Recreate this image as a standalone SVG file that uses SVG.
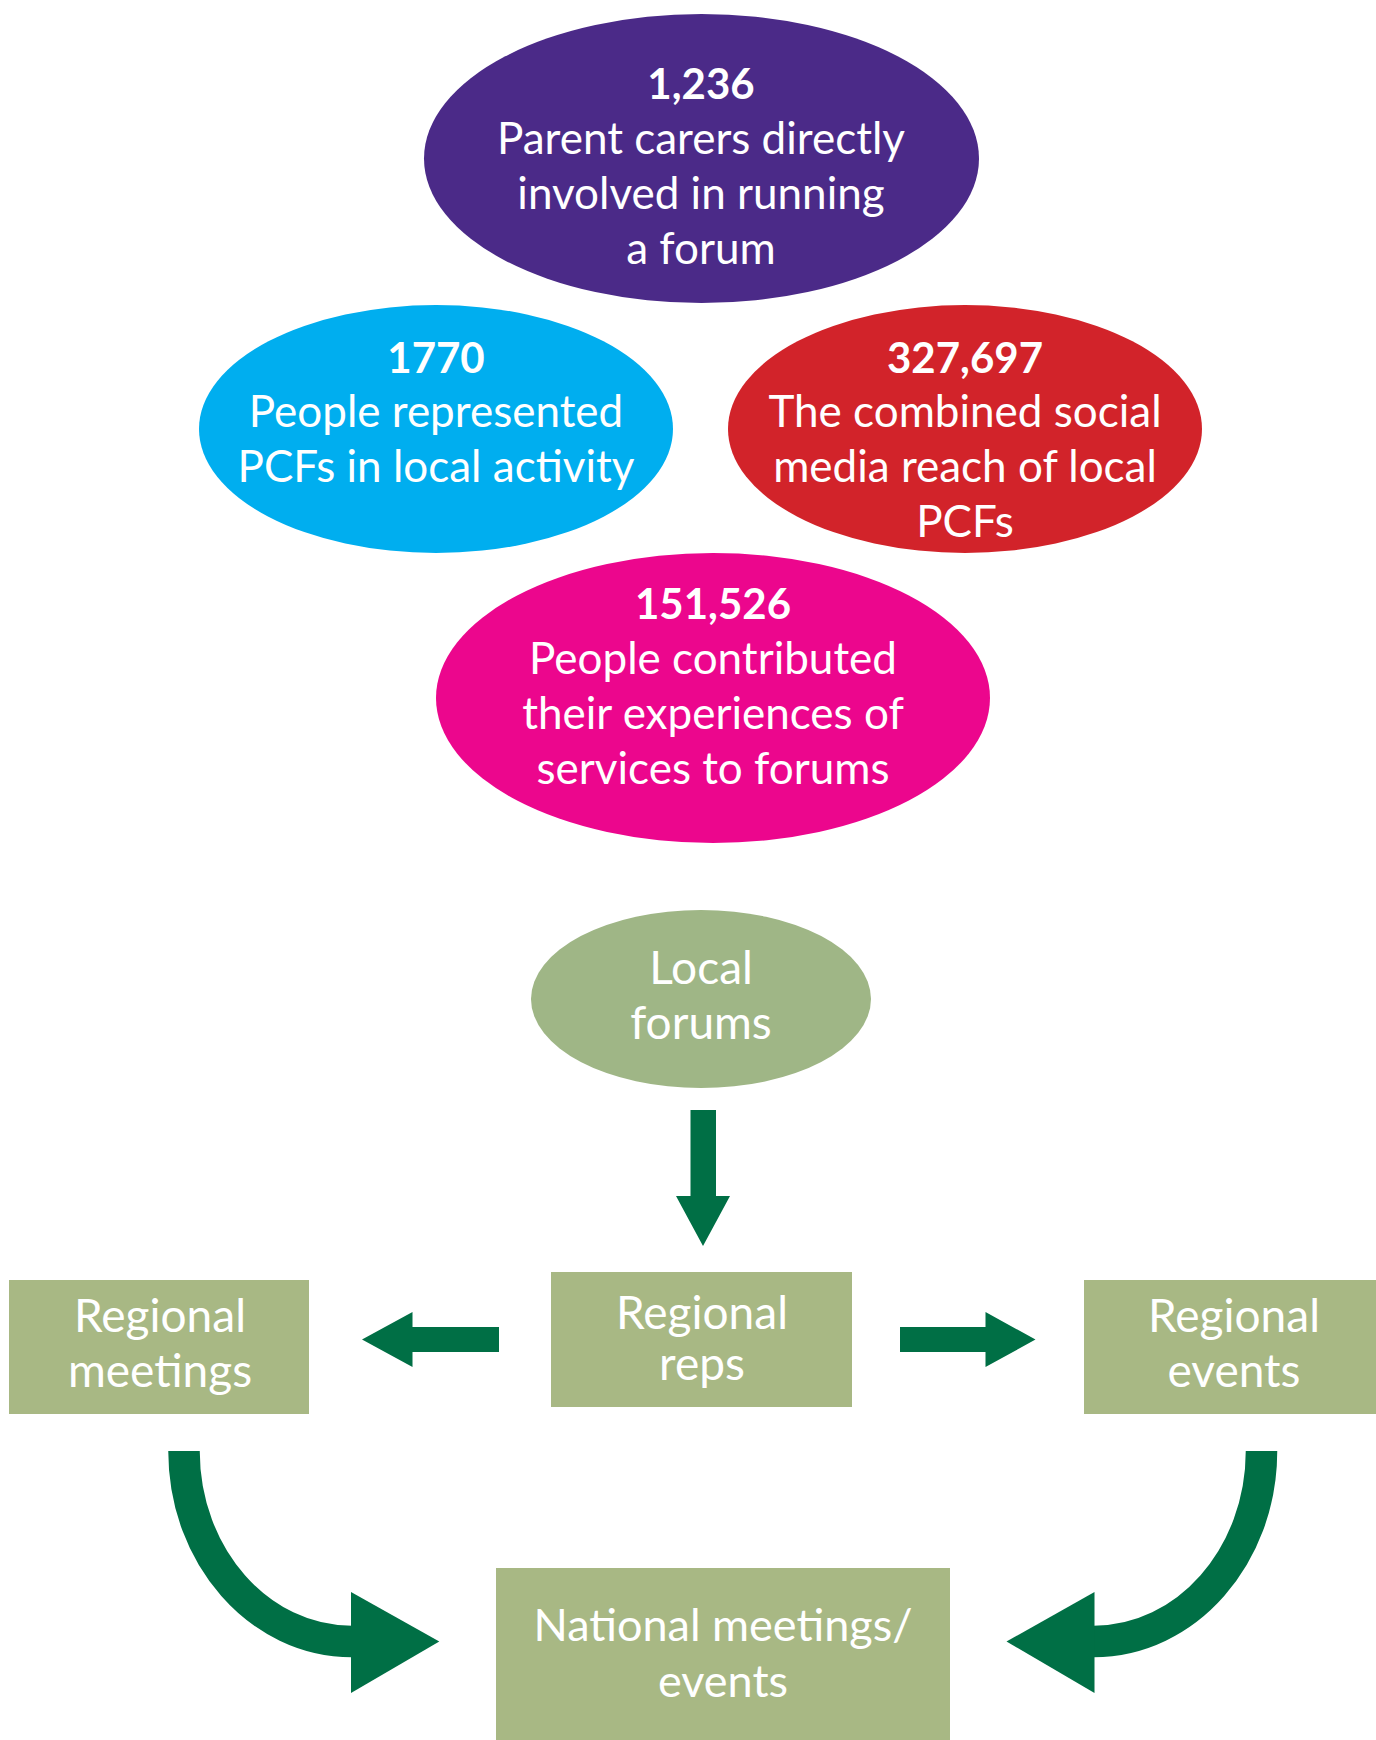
<svg xmlns="http://www.w3.org/2000/svg" width="1376" height="1740" viewBox="0 0 1376 1740">
<style>
text{font-family:Lato,"Open Sans","Liberation Sans",sans-serif;fill:#ffffff;text-anchor:middle;font-size:46px}
.stat{font-size:44px}
.num{font-weight:bold;font-size:42px}
.box{fill:#a8b884}
.arr{fill:#006f45}
.curve{fill:none;stroke:#006f45;stroke-width:31.5}
</style>
<rect width="1376" height="1740" fill="#ffffff"/>
<g id="stat-parent-carers">
<ellipse cx="701.5" cy="158.5" rx="277.5" ry="144.5" fill="#4b2a88"/>
<text x="701" y="99" class="num">1,236</text>
<text x="701" y="154" class="stat">Parent carers directly</text>
<text x="701" y="209" class="stat">involved in running</text>
<text x="701" y="264" class="stat">a forum</text>
</g>
<g id="stat-people-represented">
<ellipse cx="436" cy="429" rx="237" ry="124" fill="#00aeef"/>
<text x="436" y="373" class="num">1770</text>
<text x="436" y="427" class="stat">People represented</text>
<text x="436" y="482" class="stat">PCFs in local activity</text>
</g>
<g id="stat-social-media">
<ellipse cx="965" cy="429" rx="237" ry="124" fill="#d2232a"/>
<text x="965" y="373" class="num">327,697</text>
<text x="965" y="427" class="stat">The combined social</text>
<text x="965" y="482" class="stat">media reach of local</text>
<text x="965" y="537" class="stat">PCFs</text>
</g>
<g id="stat-contributed">
<ellipse cx="713" cy="698" rx="277" ry="145" fill="#ec068d"/>
<text x="713" y="619" class="num">151,526</text>
<text x="713" y="674" class="stat">People contributed</text>
<text x="713" y="729" class="stat">their experiences of</text>
<text x="713" y="784" class="stat">services to forums</text>
</g>
<g id="local-forums">
<ellipse cx="701" cy="999" rx="170" ry="89" fill="#9fb686"/>
<text x="701" y="984">Local</text>
<text x="701" y="1039">forums</text>
</g>
<g id="regional-reps">
<rect x="551" y="1272" width="301" height="135" class="box"/>
<text x="702" y="1329">Regional</text>
<text x="702" y="1380">reps</text>
</g>
<g id="regional-meetings">
<rect x="9" y="1280" width="300" height="134" class="box"/>
<text x="160" y="1332">Regional</text>
<text x="160" y="1387">meetings</text>
</g>
<g id="regional-events">
<rect x="1084" y="1280" width="292" height="134" class="box"/>
<text x="1234" y="1332">Regional</text>
<text x="1234" y="1387">events</text>
</g>
<g id="national">
<rect x="496" y="1568" width="454" height="172" class="box"/>
<text x="723" y="1641" style="font-size:45px">National meetings/</text>
<text x="723" y="1697" style="font-size:45px">events</text>
</g>
<g id="connectors">
<polygon class="arr" points="690.5,1110 716,1110 716,1196 730,1196 703,1246 676,1196 690.5,1196"/>
<polygon class="arr" points="499,1327 412.5,1327 412.5,1312 362,1339.5 412.5,1367 412.5,1352 499,1352"/>
<polygon class="arr" points="900,1327 985.5,1327 985.5,1312 1035.5,1339.5 985.5,1367 985.5,1352 900,1352"/>
<path class="curve" d="M184,1451 C184,1556 259,1641.5 352,1641.5"/>
<polygon class="arr" points="351,1592 439.3,1641.5 351,1693"/>
<path class="curve" d="M1261.5,1451 C1261.5,1556 1186.5,1641.5 1093.5,1641.5"/>
<polygon class="arr" points="1094.5,1592 1006.5,1641.5 1094.5,1693"/>
</g>
</svg>
